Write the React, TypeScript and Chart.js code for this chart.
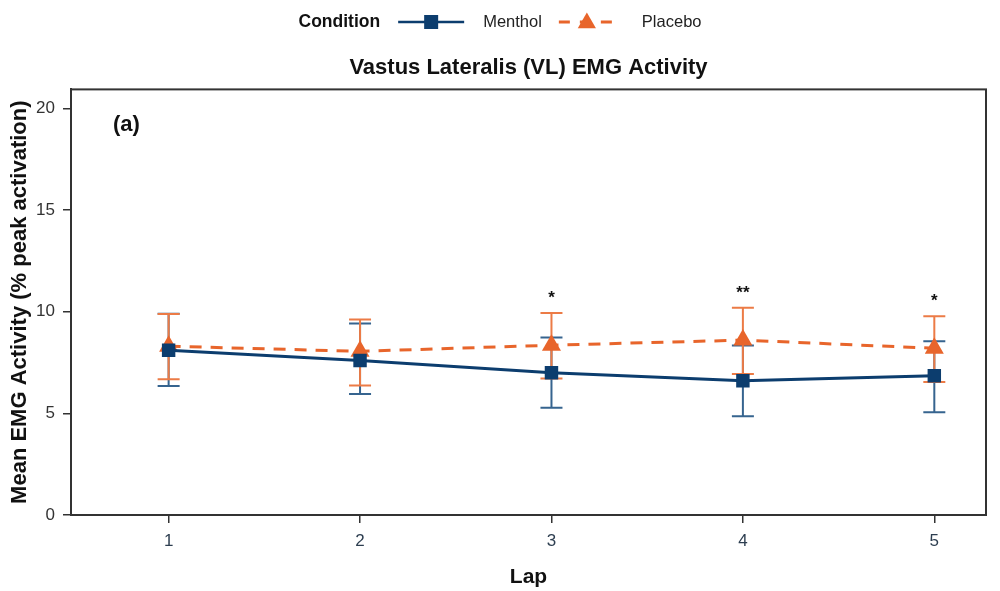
import { Chart, registerables } from 'chart.js';
import { useEffect, useRef } from 'react';

Chart.register(...registerables);

// values (% peak activation)
const laps = [1, 2, 3, 4, 5];
const mentholMean = [8.1, 7.6, 7.0, 6.6, 6.85];
const mentholLow = [6.35, 5.95, 5.27, 4.86, 5.05];
const mentholHigh = [9.9, 9.42, 8.73, 8.34, 8.55];
const placeboMean = [8.3, 8.05, 8.35, 8.6, 8.2];
const placeboLow = [6.68, 6.37, 6.71, 6.94, 6.54];
const placeboHigh = [9.88, 9.62, 9.94, 10.19, 9.78];
const significance = ['', '', '*', '**', '*'];
const yTicks = [0, 5, 10, 15, 20];

const FONT = '"Liberation Sans", Arial, sans-serif';
const NAVY = '#0c3d6e';
const NAVY_ERR = '#36648f';
const ORANGE = '#e8652b';
const ORANGE_ERR = '#ec7b46';
const FRAME = '#333333';

function drawTriangle(ctx: CanvasRenderingContext2D, x: number, y: number, r: number) {
    ctx.beginPath();
    ctx.moveTo(x, y - r);
    ctx.lineTo(x + r * 0.866, y + r * 0.5);
    ctx.lineTo(x - r * 0.866, y + r * 0.5);
    ctx.closePath();
    ctx.fill();
}

const errorBarsPlugin = {
    id: 'errorBars',
    beforeDatasetsDraw(chart: any) {
        const { ctx, scales } = chart;
        const xs = scales.x, ys = scales.y;
        const groups = [
            { low: mentholLow, high: mentholHigh, color: NAVY_ERR },
            { low: placeboLow, high: placeboHigh, color: ORANGE_ERR },
        ];
        ctx.save();
        ctx.lineWidth = 2;
        groups.forEach(g => {
            ctx.strokeStyle = g.color;
            laps.forEach((lap, i) => {
                const px = xs.getPixelForValue(lap);
                const top = ys.getPixelForValue(g.high[i]);
                const bot = ys.getPixelForValue(g.low[i]);
                ctx.beginPath();
                ctx.moveTo(px, top);
                ctx.lineTo(px, bot);
                ctx.moveTo(px - 11, top);
                ctx.lineTo(px + 11, top);
                ctx.moveTo(px - 11, bot);
                ctx.lineTo(px + 11, bot);
                ctx.stroke();
            });
        });
        ctx.restore();
    },
    afterDatasetsDraw(chart: any) {
        const { ctx, scales, chartArea } = chart;
        ctx.save();
        ctx.fillStyle = '#111';
        ctx.textAlign = 'center';
        ctx.textBaseline = 'alphabetic';
        ctx.font = `bold 17px ${FONT}`;
        laps.forEach((lap, i) => {
            if (!significance[i]) return;
            const px = scales.x.getPixelForValue(lap);
            const py = scales.y.getPixelForValue(placeboHigh[i]) - 20 + 10;
            ctx.fillText(significance[i], px, py);
        });
        ctx.font = `bold 22px ${FONT}`;
        ctx.textAlign = 'left';
        ctx.textBaseline = 'middle';
        ctx.fillText('(a)', chartArea.left + 42, chartArea.top + 36);
        ctx.restore();
    },
};

const framePlugin = {
    id: 'frame',
    afterDraw(chart: any) {
        const { ctx, chartArea } = chart;
        ctx.save();
        ctx.strokeStyle = FRAME;
        ctx.lineWidth = 2;
        ctx.strokeRect(chartArea.left, chartArea.top, chartArea.right - chartArea.left, chartArea.bottom - chartArea.top);
        ctx.restore();
    },
};

const legendPlugin = {
    id: 'conditionLegend',
    afterDraw(chart: any) {
        const ctx = chart.ctx as CanvasRenderingContext2D;
        const y = 22;
        ctx.save();
        ctx.textBaseline = 'middle';
        ctx.font = `bold 17.5px ${FONT}`;
        const condW = ctx.measureText('Condition').width;
        ctx.font = `16.5px ${FONT}`;
        const menW = ctx.measureText('Menthol').width;
        const plaW = ctx.measureText('Placebo').width;
        const sampleA = 66, sampleB = 56;
        const total = condW + 18 + sampleA + 19 + menW + 17 + sampleB + 27 + plaW;
        let x = chart.width / 2 - total / 2;

        ctx.fillStyle = '#111';
        ctx.font = `bold 17.5px ${FONT}`;
        ctx.fillText('Condition', x, y);
        x += condW + 18;

        ctx.strokeStyle = NAVY;
        ctx.lineWidth = 2.5;
        ctx.beginPath();
        ctx.moveTo(x, y);
        ctx.lineTo(x + sampleA, y);
        ctx.stroke();
        ctx.fillStyle = NAVY;
        ctx.fillRect(x + sampleA / 2 - 7, y - 7, 14, 14);
        x += sampleA + 19;

        ctx.fillStyle = '#222';
        ctx.font = `16.5px ${FONT}`;
        ctx.fillText('Menthol', x, y);
        x += menW + 17;

        ctx.strokeStyle = ORANGE;
        ctx.lineWidth = 3;
        ctx.setLineDash([11, 10]);
        ctx.beginPath();
        ctx.moveTo(x, y);
        ctx.lineTo(x + sampleB, y);
        ctx.stroke();
        ctx.setLineDash([]);
        ctx.fillStyle = ORANGE;
        drawTriangle(ctx, x + sampleB / 2, y + 1, 10.5);
        x += sampleB + 27;

        ctx.fillStyle = '#222';
        ctx.fillText('Placebo', x, y);
        ctx.restore();
    },
};

function App() {
    const canvasRef = useRef<HTMLCanvasElement>(null);
    const chartRef = useRef<Chart | null>(null);

    useEffect(() => {
        if (!canvasRef.current) return;
        const ctx = canvasRef.current.getContext('2d');
        if (!ctx) return;

        if (chartRef.current) chartRef.current.destroy();

        chartRef.current = new Chart(ctx, {
            type: 'line',
            data: {
                datasets: [
                    {
                        label: 'Menthol',
                        data: laps.map((lap, i) => ({ x: lap, y: mentholMean[i] })),
                        borderColor: NAVY,
                        backgroundColor: NAVY,
                        borderWidth: 3,
                        pointStyle: 'rect',
                        pointRadius: 9.5,
                        pointBorderWidth: 0,
                        tension: 0,
                    },
                    {
                        label: 'Placebo',
                        data: laps.map((lap, i) => ({ x: lap, y: placeboMean[i] })),
                        borderColor: ORANGE,
                        backgroundColor: ORANGE,
                        borderWidth: 3,
                        borderDash: [12, 9],
                        pointStyle: 'triangle',
                        pointRadius: 11,
                        pointBorderWidth: 0,
                        tension: 0,
                    },
                ],
            },
            options: {
                responsive: true,
                maintainAspectRatio: false,
                animation: false,
                layout: { padding: { top: 0, right: 14, bottom: 0, left: 0 } },
                scales: {
                    x: {
                        type: 'linear',
                        min: 0.49,
                        max: 5.27,
                        afterBuildTicks: (scale: any) => {
                            scale.ticks = laps.map(v => ({ value: v }));
                        },
                        afterFit: (scale: any) => {
                            scale.height = 76;
                        },
                        ticks: {
                            font: { family: FONT, size: 17 },
                            color: '#2d3e50',
                            padding: 8,
                            maxRotation: 0,
                        },
                        grid: {
                            drawOnChartArea: false,
                            drawTicks: true,
                            tickLength: 8,
                            color: FRAME,
                            lineWidth: 1.5,
                        },
                        border: { display: true, color: FRAME, width: 2 },
                        title: {
                            display: true,
                            text: 'Lap',
                            font: { family: FONT, size: 21, weight: 'bold' },
                            color: '#111',
                            padding: { top: 0, bottom: 1 },
                        },
                    },
                    y: {
                        type: 'linear',
                        min: 0,
                        max: 20.93,
                        afterBuildTicks: (scale: any) => {
                            scale.ticks = yTicks.map(v => ({ value: v }));
                        },
                        afterFit: (scale: any) => {
                            scale.width = 71;
                        },
                        ticks: {
                            font: { family: FONT, size: 17 },
                            color: '#333',
                            padding: 8,
                        },
                        grid: {
                            drawOnChartArea: false,
                            drawTicks: true,
                            tickLength: 8,
                            color: FRAME,
                            lineWidth: 1.5,
                        },
                        border: { display: true, color: FRAME, width: 2 },
                        title: {
                            display: true,
                            text: 'Mean EMG Activity (% peak activation)',
                            font: { family: FONT, size: 22, weight: 'bold' },
                            color: '#111',
                            padding: { top: 7, bottom: 0 },
                        },
                    },
                },
                plugins: {
                    legend: { display: false },
                    tooltip: { enabled: false },
                    title: {
                        display: true,
                        text: 'Vastus Lateralis (VL) EMG Activity',
                        font: { family: FONT, size: 22, weight: 'bold' },
                        color: '#111',
                        fullSize: false,
                        padding: { top: 55, bottom: 8 },
                    },
                },
            },
            plugins: [errorBarsPlugin, framePlugin, legendPlugin],
        });

        return () => {
            if (chartRef.current) {
                chartRef.current.destroy();
                chartRef.current = null;
            }
        };
    }, []);

    return (
        <div style={{ position: 'fixed', left: 0, top: 0, width: '1000px', height: '591px', background: '#fff' }}>
            <canvas ref={canvasRef} />
        </div>
    );
}

export default App;
